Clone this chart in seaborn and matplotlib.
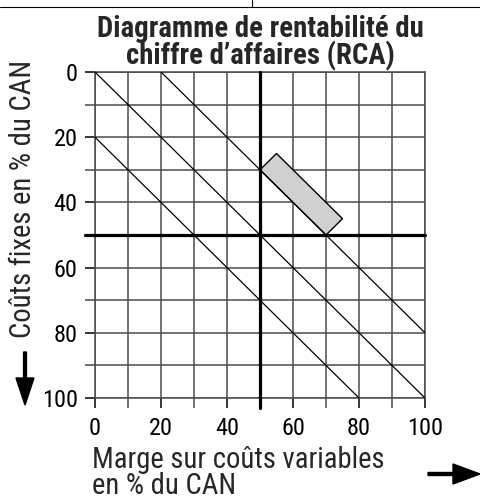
import matplotlib
matplotlib.use("Agg")
import matplotlib.pyplot as plt
from matplotlib import font_manager
import matplotlib.patches as mpatches
import matplotlib.lines as mlines
import pandas as pd
import seaborn as sns

# Axis values (percent of turnover)
tick_values = [0, 20, 40, 60, 80, 100]
minor_values = [10, 30, 50, 70, 90]
# Iso-result lines: margin - fixed costs = result level (in % of turnover)
result_levels = [20, 0, -20]
# Break-even reference lines
seuil_marge = 50
seuil_couts = 50
# Shaded target zone (corners: margin %, fixed costs %)
zone_marge = [50, 55, 75, 70]
zone_couts = [30, 25, 45, 50]

title_text = "Diagramme de rentabilité du\nchiffre d’affaires (RCA)"
ylabel_text = "Coûts fixes en % du CAN"
xlabel_text = "Marge sur coûts variables\nen % du CAN"

sns.set_theme(style="white")

# Prefer a condensed sans-serif when one is installed
installed = font_manager.fontManager.ttflist
names = {f.name for f in installed}
family, stretch = "Liberation Sans", "normal"
for cand in ["Roboto Condensed", "Liberation Sans Narrow", "Arial Narrow",
             "Open Sans Condensed"]:
    if cand in names:
        family = cand
        break
else:
    if any(f.name == "DejaVu Sans" and f.stretch == "condensed" for f in installed):
        family, stretch = "DejaVu Sans", "condensed"
plt.rcParams["font.family"] = [family, "DejaVu Sans"]
plt.rcParams["font.stretch"] = stretch

W, H = 481, 501
fig = plt.figure(figsize=(W / 100, H / 100), dpi=100)


def fx(px):
    return px / W


def fy(py):
    return 1 - py / H


ax = fig.add_axes([fx(95), fy(398), fx(425) - fx(95), fy(72) - fy(398)])

# Build the diagonal segments from the result levels
rows = []
for k in result_levels:
    x0, x1 = max(0, k), min(100, 100 + k)
    rows.append({"niveau": k, "marge": x0, "couts": x0 - k})
    rows.append({"niveau": k, "marge": x1, "couts": x1 - k})
diag = pd.DataFrame(rows)

grid_color = "#4a4a4a"
ax.set_xlim(0, 100)
ax.set_ylim(100, 0)
ax.set_xticks(tick_values)
ax.set_yticks(tick_values)
ax.set_xticks(minor_values, minor=True)
ax.set_yticks(minor_values, minor=True)
ax.grid(True, which="both", color=grid_color, lw=1.1)
ax.tick_params(which="both", direction="out", length=7.5, width=1.1,
               color=grid_color, bottom=True, left=True)
ax.tick_params(axis="both", colors="black", labelsize=17.5)
ax.tick_params(axis="x", pad=6)
ax.tick_params(axis="y", pad=5)
for sp in ax.spines.values():
    sp.set_color(grid_color)
    sp.set_linewidth(1.1)
ax.set_axisbelow(True)

# Shaded zone
ax.fill(zone_marge, zone_couts, facecolor="#d0d0d0", edgecolor="black",
        lw=1.0, zorder=3)

sns.lineplot(data=diag, x="marge", y="couts", units="niveau", estimator=None,
             color="black", lw=0.9, ax=ax, zorder=4, sort=False)

ax.axvline(seuil_marge, ymin=-0.031, ymax=1, color="black", lw=2.3,
           clip_on=False, zorder=5)
ax.axhline(seuil_couts, xmin=-0.031, xmax=1, color="black", lw=2.3,
           clip_on=False, zorder=5)
ax.set_xlabel("")
ax.set_ylabel("")

# Title and axis captions
t_title = fig.text(fx(260), fy(71), title_text, ha="center", va="bottom",
                   fontsize=18, fontweight="bold", linespacing=0.9)
t_ylab = fig.text(fx(23), fy(199), ylabel_text, rotation=90, ha="center",
                  va="center", fontsize=18)
t_xlab = fig.text(fx(92), fy(446), xlabel_text, ha="left", va="top",
                  fontsize=18, linespacing=0.9)

# Scale each text so that its extent fits the layout
fig.canvas.draw()
renderer = fig.canvas.get_renderer()


def fit(txt, target, use_height=False):
    bb = txt.get_window_extent(renderer)
    size = bb.height if use_height else bb.width
    txt.set_fontsize(txt.get_fontsize() * target / size)


fit(t_title, 326)
fit(t_ylab, 278, use_height=True)
fit(t_xlab, 292)

# Direction arrows
fig.add_artist(mpatches.FancyArrow(
    fx(25), fy(352), 0, fy(405) - fy(352), width=3 / H,
    head_width=18 / W, head_length=27 / H, length_includes_head=True,
    color="black", transform=fig.transFigure))
fig.add_artist(mpatches.FancyArrow(
    fx(428), fy(474), fx(480) - fx(428), 0, width=3 / H,
    head_width=20 / H, head_length=27 / W, length_includes_head=True,
    color="black", transform=fig.transFigure))

# Page rule at the top
fig.add_artist(mlines.Line2D([0, 1], [fy(7), fy(7)], color="black",
                             lw=0.8, transform=fig.transFigure))
fig.add_artist(mlines.Line2D([fx(252), fx(252)], [fy(7), 1],
                             color="black", lw=0.8,
                             transform=fig.transFigure))

fig.savefig("out.png", dpi=100)
